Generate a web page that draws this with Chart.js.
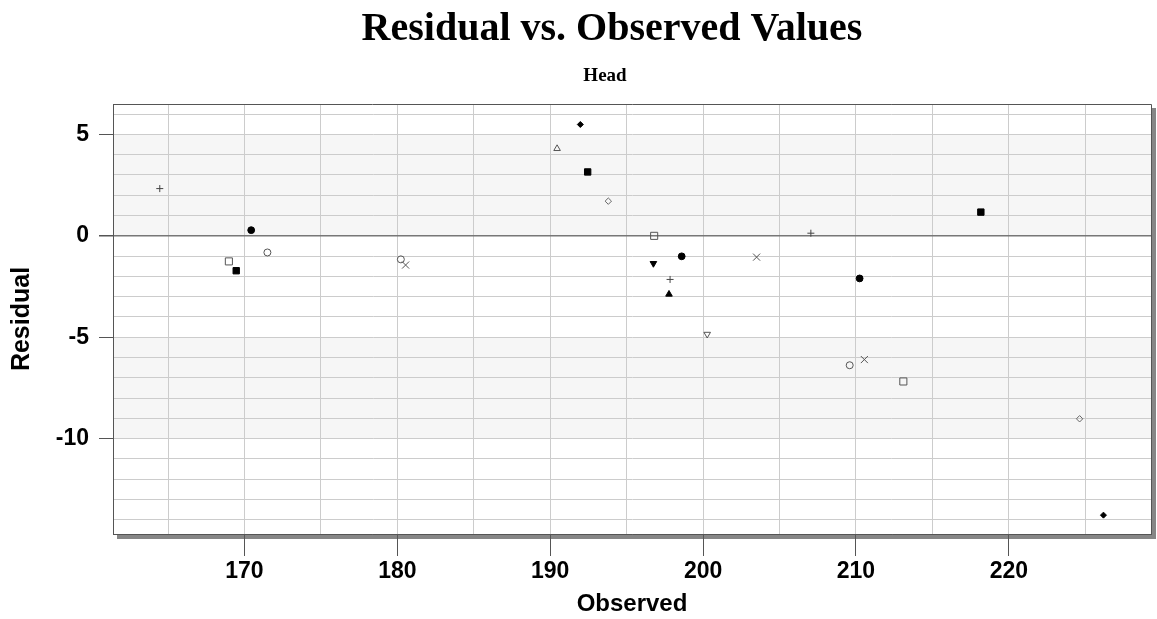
<!DOCTYPE html>
<html>
<head>
<meta charset="utf-8">
<title>Residual vs. Observed Values</title>
<script src="https://cdn.jsdelivr.net/npm/chart.js@4.4.1/dist/chart.umd.min.js"></script>
<style>
  html, body { margin: 0; padding: 0; background: #fff; }
  canvas { display: block; }
</style>
</head>
<body>
<canvas id="residualChart" width="1157" height="619"></canvas>
<script>
const chartTitle = 'Residual vs. Observed Values';
const chartSubtitle = 'Head';

const observed = [164.46, 170.44, 171.50, 168.98, 169.46, 180.23, 180.54, 191.97, 190.45,
                  192.45, 193.80, 196.80, 198.60, 196.75, 197.84, 197.77, 200.27, 203.50,
                  207.05, 210.24, 209.59, 210.55, 213.10, 218.17, 224.63, 226.19];
const residual = [2.33, 0.28, -0.82, -1.26, -1.72, -1.16, -1.44, 5.49, 4.30,
                  3.15, 1.71, 0.00, -1.01, -1.36, -2.15, -2.88, -4.85, -1.05,
                  0.13, -2.10, -6.38, -6.10, -7.18, 1.17, -9.02, -13.77];
const symbol = ['plus', 'dot', 'ring', 'box', 'block', 'ring', 'cross', 'gem', 'tri',
                'block', 'diamond', 'box', 'dot', 'triDownFilled', 'plus', 'triFilled', 'triDown', 'cross',
                'plus', 'dot', 'ring', 'cross', 'box', 'block', 'diamond', 'gem'];

const xTickLabels = [170, 180, 190, 200, 210, 220];
const yTickLabels = [5, 0, -5, -10];
const xGridLines = [165, 170, 175, 180, 185, 190, 195, 200, 205, 210, 215, 220, 225];
const shadedBands = [[0, 5], [-10, -5]];

const markerStyles = {
    plus:          { pointStyle: 'cross',    pointRadius: 3.5, fill: null,   line: '#444' },
    dot:           { pointStyle: 'circle',   pointRadius: 3.4, fill: '#000', line: '#000' },
    ring:          { pointStyle: 'circle',   pointRadius: 3.5, fill: null,   line: '#555' },
    box:           { pointStyle: 'rect',     pointRadius: 5,   fill: null,   line: '#555' },
    block:         { pointStyle: 'rect',     pointRadius: 4.5, fill: '#000', line: '#000' },
    cross:         { pointStyle: 'crossRot', pointRadius: 5,   fill: null,   line: '#555' },
    gem:           { pointStyle: 'rectRot',  pointRadius: 3,   fill: '#000', line: '#000' },
    diamond:       { pointStyle: 'rectRot',  pointRadius: 3.2, fill: null,   line: '#666' },
    tri:           { pointStyle: 'triangle', pointRadius: 3.8, fill: null,   line: '#555' },
    triFilled:     { pointStyle: 'triangle', pointRadius: 3.8, fill: '#000', line: '#000' },
    triDown:       { pointStyle: 'triangle', pointRadius: 3.8, fill: null,   line: '#555', rotation: 180 },
    triDownFilled: { pointStyle: 'triangle', pointRadius: 3.8, fill: '#000', line: '#000', rotation: 180 }
};

const datasets = Object.keys(markerStyles).map(function(key) {
    const s = markerStyles[key];
    const points = [];
    observed.forEach(function(x, i) {
        if (symbol[i] === key) points.push({ x: x, y: residual[i] });
    });
    return {
        label: key,
        data: points,
        pointStyle: s.pointStyle,
        pointRadius: s.pointRadius,
        pointHoverRadius: s.pointRadius,
        pointRotation: s.rotation || 0,
        pointBackgroundColor: s.fill || 'rgba(0,0,0,0)',
        pointBorderColor: s.line,
        pointBorderWidth: 1
    };
});

const sans = '"Liberation Sans", Arial, sans-serif';
const serif = '"Liberation Serif", "Times New Roman", serif';

const plotFrame = {
    id: 'plotFrame',
    beforeDraw(chart) {
        const { ctx, chartArea: a } = chart;
        const y = chart.scales.y;
        ctx.save();
        ctx.fillStyle = '#fff';
        ctx.fillRect(0, 0, chart.width, chart.height);
        // drop shadow
        ctx.fillStyle = '#868686';
        ctx.fillRect(a.left + 4, a.bottom, a.width, 5);
        ctx.fillRect(a.right, a.top + 4, 5, a.height + 1);
        // alternating bands
        ctx.fillStyle = '#f6f6f6';
        shadedBands.forEach(function(b) {
            const top = y.getPixelForValue(b[1]);
            const bot = y.getPixelForValue(b[0]);
            ctx.fillRect(a.left, top, a.width, bot - top);
        });
        ctx.restore();
    },
    afterDraw(chart) {
        const { ctx, chartArea: a } = chart;
        ctx.save();
        ctx.strokeStyle = '#555';
        ctx.lineWidth = 1;
        ctx.beginPath();
        ctx.moveTo(a.left, a.top + 0.5);
        ctx.lineTo(a.right + 0.5, a.top + 0.5);
        ctx.lineTo(a.right + 0.5, a.bottom);
        ctx.stroke();

        ctx.fillStyle = '#000';
        ctx.textAlign = 'center';
        ctx.textBaseline = 'alphabetic';
        ctx.font = 'bold 40px ' + serif;
        ctx.fillText(chartTitle, 612, 40);
        ctx.font = 'bold 19px ' + serif;
        ctx.fillText(chartSubtitle, 605, 81);
        ctx.restore();
    }
};

new Chart(document.getElementById('residualChart'), {
    type: 'scatter',
    data: { datasets: datasets },
    plugins: [plotFrame],
    options: {
        responsive: false,
        animation: false,
        layout: { padding: { top: 104, right: 3, left: 0, bottom: 0 } },
        plugins: {
            legend: { display: false },
            tooltip: { enabled: false }
        },
        scales: {
            x: {
                type: 'linear',
                min: 161.4,
                max: 229.3,
                afterBuildTicks: function(axis) {
                    axis.ticks = xGridLines.map(function(v) { return { value: v }; });
                },
                afterFit: function(axis) { axis.height = 85; },
                grid: {
                    color: '#cccccc',
                    tickLength: 22,
                    tickColor: function(c) {
                        return c.tick && xTickLabels.includes(c.tick.value) ? '#555' : 'rgba(0,0,0,0)';
                    }
                },
                border: { display: true, color: '#555' },
                ticks: {
                    autoSkip: false,
                    maxRotation: 0,
                    padding: 2,
                    color: '#000',
                    font: { family: sans, size: 23, weight: 'bold' },
                    callback: function(v) { return xTickLabels.includes(v) ? String(v) : ''; }
                },
                title: {
                    display: true,
                    text: 'Observed',
                    color: '#000',
                    font: { family: sans, size: 24, weight: 'bold' },
                    padding: { top: 0, bottom: 0 }
                }
            },
            y: {
                type: 'linear',
                min: -14.7,
                max: 6.5,
                afterBuildTicks: function(axis) {
                    const t = [];
                    for (let v = -14; v <= 6; v++) t.push({ value: v });
                    axis.ticks = t;
                },
                afterFit: function(axis) { axis.width = 113; },
                grid: {
                    color: function(c) { return c.tick && c.tick.value === 0 ? '#777' : '#cccccc'; },
                    lineWidth: function(c) { return c.tick && c.tick.value === 0 ? 1.5 : 1; },
                    tickLength: 14,
                    tickColor: function(c) {
                        return c.tick && yTickLabels.includes(c.tick.value) ? '#555' : 'rgba(0,0,0,0)';
                    }
                },
                border: { display: true, color: '#555' },
                ticks: {
                    autoSkip: false,
                    padding: 10,
                    color: '#000',
                    font: { family: sans, size: 23, weight: 'bold' },
                    callback: function(v) { return yTickLabels.includes(v) ? String(v) : ''; }
                },
                title: {
                    display: true,
                    text: 'Residual',
                    color: '#000',
                    font: { family: sans, size: 25, weight: 'bold' },
                    padding: { top: 7, bottom: 0 }
                }
            }
        }
    }
});
</script>
</body>
</html>
